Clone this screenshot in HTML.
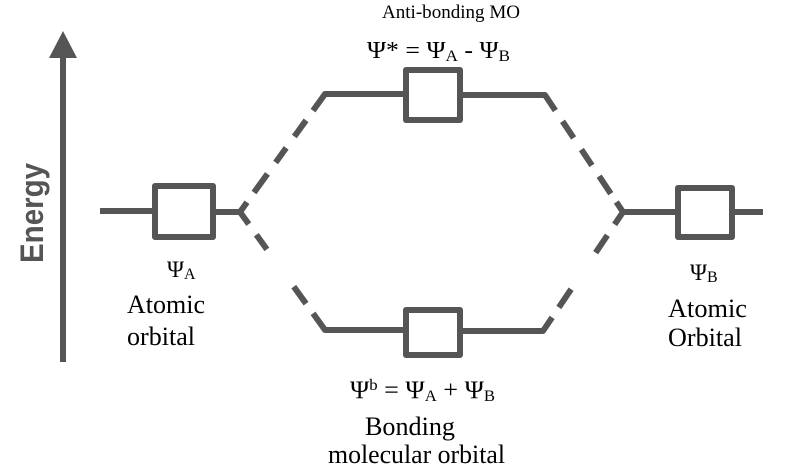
<!DOCTYPE html>
<html>
<head>
<meta charset="utf-8">
<style>
html,body{margin:0;padding:0;background:#fff;}
svg{display:block;}
.t{font-family:"Liberation Serif","DejaVu Serif",serif;fill:#000;}
</style>
</head>
<body>
<svg width="811" height="473" viewBox="0 0 811 473" xmlns="http://www.w3.org/2000/svg">
  <rect width="811" height="473" fill="#fff"/>
  <g stroke="#555" stroke-width="6" fill="none" stroke-linejoin="round">
    <!-- energy axis -->
    <line x1="63" y1="56" x2="63" y2="362"/>
    <!-- left AO -->
    <line x1="100" y1="211" x2="155" y2="211"/>
    <rect x="155" y="186" width="58" height="51"/>
    <line x1="213" y1="212" x2="241" y2="212"/>
    <!-- right AO -->
    <line x1="622" y1="212" x2="678" y2="212"/>
    <rect x="678" y="188" width="54" height="49"/>
    <line x1="732" y1="212" x2="763" y2="212"/>
    <!-- top MO box -->
    <rect x="406" y="70" width="54" height="50"/>
    <!-- bottom MO box -->
    <rect x="406" y="310" width="54" height="45"/>
    <!-- dashed connectors -->
    <path d="M240,212 L325,94 L406,94" stroke-dasharray="12 12 23 14 18 14 20 12 400"/>
    <path d="M240,212 L325,330 L406,330" stroke-dasharray="15 13 18 46 21 12 400"/>
    <path d="M623,212 L545,95 L460,95" stroke-dasharray="12 10 21 13 19 14 20 13 400"/>
    <path d="M623,212 L543,331 L460,331" stroke-dasharray="15 13 21 44 22 12 400"/>
  </g>
  <polygon points="63,31 49,58 77,58" fill="#555"/>

  <!-- Energy label -->
  <text transform="translate(43,213) rotate(-90)" text-anchor="middle" font-family="'Liberation Sans','DejaVu Sans',sans-serif" font-weight="bold" font-size="32" fill="#555" textLength="100" lengthAdjust="spacingAndGlyphs">Energy</text>

  <!-- top labels -->
  <text class="t" x="382" y="18" font-size="19" textLength="138" lengthAdjust="spacingAndGlyphs">Anti-bonding MO</text>
  <text class="t" x="367" y="58" font-size="24" textLength="143" lengthAdjust="spacingAndGlyphs">Ψ* = Ψ<tspan font-size="16" dy="3">A</tspan><tspan dy="-3"> - Ψ</tspan><tspan font-size="16" dy="3">B</tspan></text>

  <!-- left labels -->
  <text class="t" x="167" y="277" font-size="23">Ψ<tspan font-size="16" dy="2">A</tspan></text>
  <text class="t" x="127" y="313" font-size="26" textLength="78" lengthAdjust="spacingAndGlyphs">Atomic</text>
  <text class="t" x="127" y="345" font-size="26" textLength="68" lengthAdjust="spacingAndGlyphs">orbital</text>

  <!-- right labels -->
  <text class="t" x="690" y="280" font-size="23">Ψ<tspan font-size="16" dy="2">B</tspan></text>
  <text class="t" x="668" y="317" font-size="26" textLength="79" lengthAdjust="spacingAndGlyphs">Atomic</text>
  <text class="t" x="668" y="346" font-size="26" textLength="74" lengthAdjust="spacingAndGlyphs">Orbital</text>

  <!-- bottom labels -->
  <text class="t" x="350" y="398" font-size="25" textLength="145" lengthAdjust="spacingAndGlyphs">Ψ<tspan font-size="16" dy="-8">b</tspan><tspan dy="8"> = Ψ</tspan><tspan font-size="16" dy="3">A</tspan><tspan dy="-3"> + Ψ</tspan><tspan font-size="16" dy="3">B</tspan></text>
  <text class="t" x="365" y="435" font-size="26" textLength="90" lengthAdjust="spacingAndGlyphs">Bonding</text>
  <text class="t" x="328" y="463" font-size="26" textLength="177" lengthAdjust="spacingAndGlyphs">molecular orbital</text>
</svg>
</body>
</html>
